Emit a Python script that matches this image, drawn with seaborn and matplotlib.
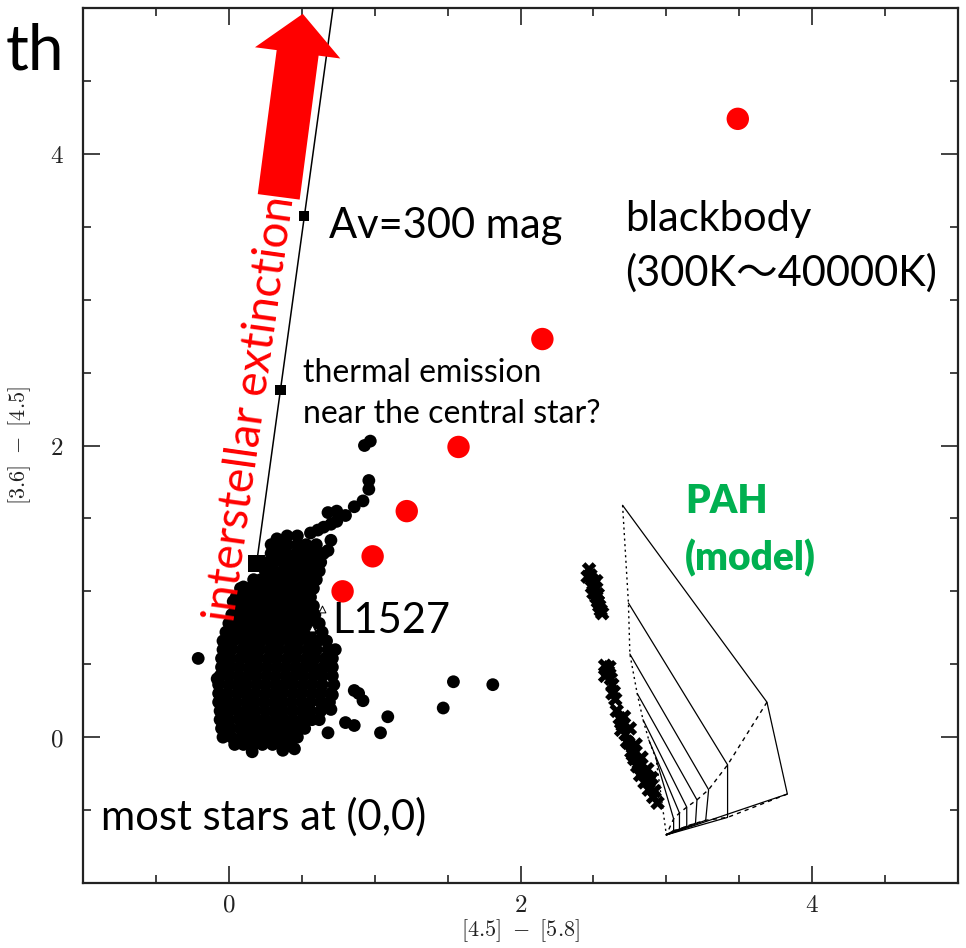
import matplotlib
matplotlib.use("Agg")
import matplotlib.pyplot as plt
import seaborn as sns
import pandas as pd
from matplotlib.patches import FancyArrow
from matplotlib.ticker import MultipleLocator, FuncFormatter

sns.set_theme(style="ticks")
plt.rcParams["font.family"] = ["Lato", "Noto Sans CJK JP", "DejaVu Sans"]
plt.rcParams["mathtext.fontset"] = "cm"

# --- field stars: colour rows ([3.6]-[4.5] value -> [4.5]-[5.8] values) ---
star_rows = {
    1.38: [0.40, 0.47],
    1.32: [0.29, 0.34, 0.40, 0.47, 0.53, 0.60],
    1.26: [0.29, 0.33, 0.39, 0.46, 0.52, 0.58, 0.65],
    1.20: [0.27, 0.31, 0.38, 0.44, 0.50, 0.57, 0.63],
    1.14: [0.25, 0.31, 0.37, 0.43, 0.49, 0.55, 0.62],
    1.08: [0.17, 0.22, 0.29, 0.35, 0.41, 0.47, 0.53, 0.60],
    1.02: [0.08, 0.14, 0.20, 0.27, 0.33, 0.39, 0.45, 0.52, 0.58],
    0.96: [0.05, 0.11, 0.18, 0.24, 0.30, 0.37, 0.43, 0.49, 0.56],
    0.90: [0.04, 0.10, 0.16, 0.23, 0.29, 0.35, 0.42, 0.48, 0.54, 0.58],
    0.84: [0.02, 0.08, 0.15, 0.21, 0.27, 0.34, 0.40, 0.46, 0.53, 0.59],
    0.78: [0.00, 0.06, 0.13, 0.19, 0.25, 0.32, 0.38, 0.45, 0.51, 0.58, 0.62],
    0.72: [-0.02, 0.05, 0.11, 0.17, 0.24, 0.30, 0.37, 0.43, 0.50, 0.56, 0.64],
    0.66: [-0.03, 0.03, 0.10, 0.16, 0.22, 0.29, 0.35, 0.42, 0.48, 0.55, 0.61, 0.67],
    0.60: [-0.04, 0.02, 0.09, 0.15, 0.21, 0.28, 0.34, 0.41, 0.47, 0.54, 0.60, 0.68],
    0.54: [-0.05, 0.01, 0.08, 0.14, 0.20, 0.27, 0.33, 0.40, 0.46, 0.53, 0.59, 0.66, 0.71],
    0.48: [-0.05, 0.01, 0.07, 0.14, 0.20, 0.26, 0.33, 0.39, 0.46, 0.52, 0.58, 0.65, 0.71],
    0.42: [-0.06, 0.00, 0.07, 0.13, 0.19, 0.26, 0.32, 0.39, 0.45, 0.51, 0.58, 0.64, 0.71],
    0.36: [-0.07, 0.00, 0.06, 0.12, 0.19, 0.25, 0.32, 0.38, 0.44, 0.51, 0.57, 0.64, 0.72],
    0.30: [-0.07, -0.01, 0.06, 0.12, 0.18, 0.25, 0.31, 0.37, 0.44, 0.50, 0.57, 0.63, 0.70],
    0.24: [-0.07, -0.01, 0.05, 0.12, 0.18, 0.24, 0.31, 0.37, 0.43, 0.50, 0.56, 0.63, 0.69],
    0.18: [-0.06, 0.00, 0.06, 0.12, 0.18, 0.25, 0.31, 0.37, 0.44, 0.50, 0.56, 0.63],
    0.12: [-0.06, 0.00, 0.07, 0.13, 0.19, 0.25, 0.32, 0.38, 0.44, 0.51, 0.57, 0.62],
    0.06: [-0.05, 0.01, 0.08, 0.14, 0.20, 0.27, 0.33, 0.39, 0.46, 0.52],
    0.00: [-0.04, 0.02, 0.09, 0.15, 0.22, 0.28, 0.34, 0.41, 0.47],
    -0.05: [0.04, 0.10, 0.17, 0.23, 0.30, 0.36, 0.42],
}

# isolated stars and the red tail toward the upper right
extra_x = [0.16, 0.37, -0.21, -0.04, 0.10, 0.97, 0.93, 0.96, 0.96, 0.92, 0.86, 0.80,
           0.74, 0.68, 0.74, 0.70, 0.65, 0.61, 0.56, 0.70, 0.68, 0.86, 0.92, 0.89,
           0.68, 0.80, 0.86, 1.04, 1.09, 1.47, 1.54, 1.81, 0.71, 0.70,
           0.03, -0.08, 0.33, 0.60, 0.73, 0.45, 0.12]
extra_y = [-0.10, -0.09, 0.54, 0.66, 1.03, 2.03, 2.00, 1.76, 1.70, 1.62, 1.58, 1.52,
           1.55, 1.54, 1.48, 1.46, 1.44, 1.42, 1.40, 1.35, 1.28, 0.32, 0.25, 0.30,
           0.03, 0.10, 0.08, 0.03, 0.14, 0.20, 0.38, 0.36, 0.29, 0.19,
           0.93, 0.40, 1.36, 0.46, 0.60, -0.08, 0.97]

# L1527 (open triangles)
l1527_x = [0.64, 0.57]
l1527_y = [0.88, 0.75]

# reddening vector (Av marks) and its line
ext_x = [0.19, 0.354, 0.515]
ext_y = [1.19, 2.38, 3.575]
ext_line_x = [0.19, 0.72]
ext_line_y = [1.19, 5.04]

# blackbody colours, 300 K ... 40000 K
bb_x = [0.78, 0.986, 1.22, 1.575, 2.15, 3.49]
bb_y = [1.00, 1.24, 1.55, 1.99, 2.73, 4.24]

# PAH model points (crosses)
pah_x = [2.47, 2.48, 2.49, 2.50, 2.51, 2.50, 2.52, 2.53, 2.54, 2.55, 2.56, 2.49, 2.53, 2.52,
         2.58, 2.60, 2.62, 2.63, 2.64, 2.61, 2.66, 2.68, 2.70, 2.72, 2.74, 2.76, 2.78,
         2.80, 2.82, 2.85, 2.88, 2.91, 2.94, 2.69, 2.73, 2.77, 2.81, 2.84, 2.88, 2.92, 2.65,
         2.46, 2.58, 2.63, 2.71, 2.75, 2.79, 2.83, 2.87, 2.90]
pah_y = [1.15, 1.11, 1.08, 1.05, 1.02, 0.99, 0.96, 0.93, 0.90, 0.87, 0.85, 1.03, 0.98, 1.07,
         0.49, 0.45, 0.40, 0.36, 0.31, 0.48, 0.18, 0.13, 0.08, 0.02, -0.04, -0.10, -0.15,
         -0.20, -0.26, -0.31, -0.36, -0.41, -0.45, 0.05, -0.03, -0.12, -0.18, -0.24, -0.30,
         -0.37, 0.26, 1.10, 0.42, 0.30, 0.14, 0.06, -0.05, -0.14, -0.22, -0.28]

# PAH model grid: start, elbow and end of each track
grid_start_x = [2.70, 2.74, 2.75, 2.80, 2.84, 2.88, 2.93]
grid_start_y = [1.59, 0.92, 0.57, 0.30, 0.12, -0.02, -0.15]
grid_elbow_x = [3.69, 3.42, 3.29, 3.21, 3.14, 3.09, 3.05]
grid_elbow_y = [0.24, -0.19, -0.36, -0.43, -0.48, -0.52, -0.56]
grid_end_x = [3.83, 3.42, 3.27, 3.20, 3.14, 3.09, 3.05]
grid_end_y = [-0.39, -0.55, -0.57, -0.59, -0.61, -0.63, -0.64]
grid_base_x = [3.00]
grid_base_y = [-0.67]

stars = pd.DataFrame(
    [(x, y) for y, xs in star_rows.items() for x in xs] + list(zip(extra_x, extra_y)),
    columns=["c45_58", "c36_45"],
)

fig = plt.figure(figsize=(9.66, 9.48), dpi=100)
ax = fig.add_axes([83 / 966, 65 / 948, 875 / 966, 875 / 948])

# PAH model grid
for i in range(len(grid_start_x)):
    ax.plot([grid_start_x[i], grid_elbow_x[i], grid_end_x[i], grid_base_x[0]],
            [grid_start_y[i], grid_elbow_y[i], grid_end_y[i], grid_base_y[0]],
            color="black", lw=0.9, zorder=2)
ax.plot(grid_start_x + grid_base_x, grid_start_y + grid_base_y, color="black", lw=1.0,
        ls=(0, (1.5, 2.5)), zorder=2)
ax.plot(grid_elbow_x + grid_base_x, grid_elbow_y + grid_base_y, color="black", lw=1.0,
        ls=(0, (3, 3)), zorder=2)
ax.plot(grid_end_x + grid_base_x, grid_end_y + grid_base_y, color="black", lw=1.0,
        ls=(0, (3, 3)), zorder=2)
sns.scatterplot(x=pah_x, y=pah_y, marker="X", s=110, color="black", edgecolor="none",
                ax=ax, zorder=3)

# field stars
sns.scatterplot(data=stars, x="c45_58", y="c36_45", s=85, color="black",
                edgecolor="none", ax=ax, zorder=3)
sns.scatterplot(x=l1527_x, y=l1527_y, marker="^", s=24, facecolor="white",
                edgecolor="black", linewidth=0.7, ax=ax, zorder=4)

# reddening vector
ax.plot(ext_line_x, ext_line_y, color="black", lw=1.1, zorder=4)
sns.scatterplot(x=ext_x[:1], y=ext_y[:1], marker="s", s=150, color="black",
                edgecolor="none", ax=ax, zorder=5)
sns.scatterplot(x=ext_x[1:], y=ext_y[1:], marker="s", s=55, color="black",
                edgecolor="none", ax=ax, zorder=5)

# blackbody colours
sns.scatterplot(x=bb_x, y=bb_y, s=260, color="#ff0000", edgecolor="none", ax=ax, zorder=5)

ax.add_patch(FancyArrow(0.342, 3.705, 0.165, 1.255, width=0.29, head_width=0.59,
                        head_length=0.27, length_includes_head=True,
                        color="#ff0000", lw=0, zorder=6))

ax.set_xlim(-1, 5)
ax.set_ylim(-1, 5)
ax.xaxis.set_major_locator(MultipleLocator(2))
ax.yaxis.set_major_locator(MultipleLocator(2))
ax.xaxis.set_minor_locator(MultipleLocator(0.5))
ax.yaxis.set_minor_locator(MultipleLocator(0.5))
fmt = FuncFormatter(lambda v, p: f"${v:.0f}$")
ax.xaxis.set_major_formatter(fmt)
ax.yaxis.set_major_formatter(fmt)
ax.tick_params(which="both", direction="in", top=True, right=True, width=1.2,
               color="#222222", labelsize=18, labelcolor="#222222")
ax.tick_params(which="major", length=12)
ax.tick_params(which="minor", length=6)
ax.tick_params(axis="x", which="major", pad=7)
ax.tick_params(axis="y", which="major", pad=14)
for sp in ax.spines.values():
    sp.set_linewidth(1.6)
    sp.set_color("#222222")
ax.set_xlabel(r"$\mathbf{[4.5]\ -\ [5.8]}$", fontsize=16, labelpad=1, color="#222222")
ax.set_ylabel(r"$\mathbf{[3.6]\ -\ [4.5]}$", fontsize=16, labelpad=12, color="#222222")

# annotations
ax.text(0.15, 2.25, "interstellar extinction", color="#ff0000", fontsize=33,
        rotation=82, ha="center", va="center", rotation_mode="anchor", zorder=7)
ax.text(0.685, 3.425, "Av=300 mag", fontsize=30, color="black", zorder=7)
ax.text(2.72, 3.473, "blackbody", fontsize=30, color="black", zorder=7)
ax.text(2.72, 3.096, "(300K～40000K)", fontsize=30, color="black", zorder=7)
ax.text(0.507, 2.432, "thermal emission", fontsize=23, color="black", zorder=7)
ax.text(0.507, 2.151, "near the central star?", fontsize=23, color="black", zorder=7)
ax.text(0.712, 0.712, "L1527", fontsize=30, color="black", zorder=7)
ax.text(3.13, 1.534, "PAH", fontsize=28, color="#00b050", fontweight="heavy", zorder=7)
ax.text(3.13, 1.144, "(model)", fontsize=28, color="#00b050", fontweight="heavy", zorder=7)
ax.text(-0.877, -0.637, "most stars at (0,0)", fontsize=30, color="black", zorder=7)
fig.text(6 / 966, 1 - 70 / 948, "th", fontsize=46, color="black")

fig.savefig("out.png", dpi=100)
